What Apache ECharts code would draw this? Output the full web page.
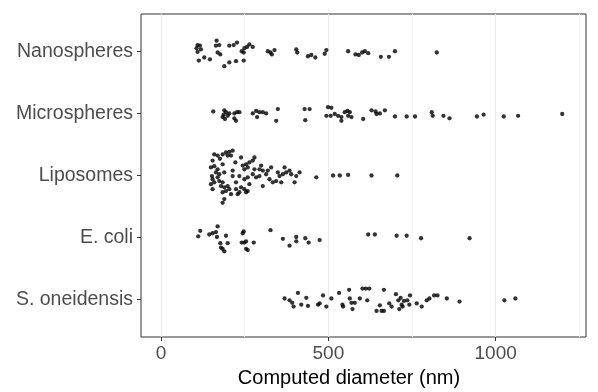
<!DOCTYPE html>
<html>
<head>
<meta charset="utf-8">
<script src="https://cdn.jsdelivr.net/npm/echarts@6/dist/echarts.min.js"></script>
<style>html,body{margin:0;padding:0;background:#fff}#c{width:598px;height:392px}</style>
</head>
<body>
<div id="c"></div>
<script>
const categories = ["Nanospheres", "Microspheres", "Liposomes", "E. coli", "S. oneidensis"];
const xTicks = [0, 500, 1000];
const gridMajor = [0, 500, 1000];
const gridMinor = [250, 750, 1250];
const xTitle = "Computed diameter (nm)";

// diameters (nm) and vertical jitter offsets (category units)
const nanoD = [109,116,106,119,109,113,129,146,166,164,174,169,177,204,217,227,189,204,224,247,241,249,257,264,274,247,319,327,331,339,404,407,439,449,461,489,494,559,581,591,601,609,619,657,681,699,824];
const nanoJ = [-0.10,-0.09,-0.05,-0.03,0.01,0.15,0.10,0.13,-0.17,-0.09,-0.10,0.02,0.05,-0.09,-0.10,-0.14,0.24,0.18,0.16,0.15,0.0,-0.05,-0.07,-0.11,-0.07,0.02,0.0,0.02,0.05,-0.02,-0.03,0.02,0.08,0.06,0.10,0.04,-0.02,0.0,0.05,0.06,0.02,0.0,0.03,0.09,0.09,0.0,0.02];

const microD = [156,189,194,187,184,191,199,204,219,227,234,219,224,274,284,294,304,314,287,349,344,429,444,431,499,509,494,507,519,529,539,539,549,557,564,569,559,604,629,641,654,669,644,699,734,759,809,812,844,862,944,964,1024,1067,1199];
const microJ = [-0.03,-0.05,-0.02,0.02,0.06,0.09,0.04,0.0,0.0,-0.02,-0.02,0.08,0.12,0.0,-0.04,-0.02,-0.02,0.0,0.06,-0.07,0.12,-0.07,-0.07,0.11,-0.10,-0.09,0.04,0.04,0.01,0.04,0.06,0.12,-0.02,-0.04,-0.02,0.06,0.04,0.09,-0.05,-0.03,0.0,-0.05,0.01,0.05,0.05,0.05,-0.02,0.04,0.04,0.08,0.05,0.02,0.05,0.04,0.01];

const lipoD = [159,169,176,184,194,199,204,214,209,154,149,159,169,184,174,189,214,222,239,244,254,264,274,279,249,259,154,149,154,152,169,174,184,189,194,184,199,204,209,214,224,229,234,239,249,254,259,184,189,249,259,274,284,294,299,294,304,279,304,319,324,334,344,349,354,364,369,374,384,389,399,404,414,464,514,534,559,629,706,164,159,179,224,264,234,314,329,359];
const lipoJ = [-0.34,-0.32,-0.27,-0.34,-0.37,-0.32,-0.38,-0.40,-0.32,-0.24,-0.13,-0.15,-0.10,-0.18,-0.02,-0.05,-0.08,-0.21,-0.29,-0.16,-0.18,-0.21,-0.24,-0.29,-0.10,-0.13,0.06,0.14,0.22,0.01,0.03,0.09,0.11,0.19,0.25,0.27,0.17,0.22,0.30,0.01,0.22,0.30,0.27,0.19,0.22,0.27,0.25,0.44,0.38,0.06,0.03,-0.02,0.03,0.01,-0.16,-0.10,-0.08,-0.10,0.17,-0.08,0.06,0.11,0.09,-0.05,0.01,-0.02,-0.13,-0.05,-0.08,-0.02,0.11,0.01,-0.05,0.03,0.0,0.0,-0.01,0.0,0.0,-0.05,0.11,0.17,0.11,0.14,0.01,-0.02,-0.13,0.11];

const ecoliD = [117,111,144,154,164,169,167,177,179,184,189,194,199,247,244,241,249,254,254,259,277,327,364,384,404,404,431,441,474,619,639,704,734,777,922];
const ecoliJ = [-0.11,-0.02,-0.05,-0.07,-0.09,-0.18,-0.01,0.09,0.16,0.18,0.22,-0.03,0.09,-0.10,-0.07,0.08,0.08,0.06,0.18,0.20,0.08,-0.12,0.02,0.13,-0.01,0.06,0.01,0.08,0.04,-0.05,-0.05,-0.03,-0.03,0.01,0.01];

const soneD = [369,384,392,396,409,419,434,439,469,474,484,494,509,532,542,544,562,564,569,572,579,594,602,612,622,616,644,654,659,666,666,682,689,702,709,712,716,719,722,726,736,744,742,764,779,794,802,816,826,854,892,1026,1059];
const soneJ = [-0.02,0.01,0.05,0.11,-0.11,0.08,-0.03,0.10,0.08,0.06,-0.07,0.11,-0.02,-0.11,0.08,0.11,-0.16,-0.02,0.05,0.15,0.05,-0.02,-0.18,-0.18,-0.18,0.01,0.18,0.09,0.18,0.18,-0.16,0.06,0.11,-0.09,0.01,0.15,-0.03,0.08,0.11,0.02,0.01,-0.07,0.08,0.06,0.11,0.01,-0.02,-0.07,-0.07,-0.02,0.03,0.01,-0.02];

const groups = [[nanoD, nanoJ], [microD, microJ], [lipoD, lipoJ], [ecoliD, ecoliJ], [soneD, soneJ]];
const points = [];
groups.forEach(function (g, i) {
  g[0].forEach(function (d, k) { points.push([d, i + g[1][k]]); });
});

const X_MIN = -60, X_MAX = 1270;
const font = '"Liberation Sans", Arial, sans-serif';
function gridAxis(values, color, width) {
  return {
    type: 'value', min: X_MIN, max: X_MAX, position: 'bottom',
    axisLine: {show: false, onZero: false}, axisLabel: {show: false},
    axisTick: {show: false, customValues: values},
    splitLine: {show: true, lineStyle: {color: color, width: width}}
  };
}

const chart = echarts.init(document.getElementById('c'), null, {renderer: 'canvas'});
chart.setOption({
  animation: false,
  backgroundColor: '#ffffff',
  grid: {left: 141, right: 12, top: 14, bottom: 55, show: true, borderColor: '#333333', borderWidth: 1, backgroundColor: 'transparent'},
  xAxis: [
    {
      type: 'value', min: X_MIN, max: X_MAX, position: 'bottom',
      axisLine: {show: false, onZero: false},
      axisTick: {show: true, customValues: xTicks, length: 4, lineStyle: {color: '#333333', width: 1}},
      axisLabel: {customValues: xTicks, color: '#4D4D4D', fontSize: 19, fontFamily: font, margin: 7,
        formatter: function (v) { return String(v); }},
      splitLine: {show: false}
    },
    gridAxis(gridMajor, '#EBEBEB', 1.2),
    gridAxis(gridMinor, '#F2F2F2', 1)
  ],
  yAxis: {
    type: 'value', inverse: true, min: -0.6, max: 4.6, position: 'left',
    axisLine: {show: false, onZero: false},
    axisTick: {show: true, customValues: [0, 1, 2, 3, 4], length: 4, lineStyle: {color: '#333333', width: 1}},
    axisLabel: {customValues: [0, 1, 2, 3, 4], color: '#4D4D4D', fontSize: 19.5, fontFamily: font, margin: 8,
      formatter: function (v) { return categories[Math.round(v)]; }},
    splitLine: {show: false}
  },
  graphic: [{
    type: 'text', x: 349, y: 378, silent: true,
    style: {text: xTitle, fill: '#000000', font: '20px ' + font, textAlign: 'center', textVerticalAlign: 'middle'}
  }],
  series: [
    {
      type: 'scatter', data: points, symbol: 'circle', symbolSize: 4.3,
      itemStyle: {color: '#000000'}, z: 5
    }
  ]
});
</script>
</body>
</html>
